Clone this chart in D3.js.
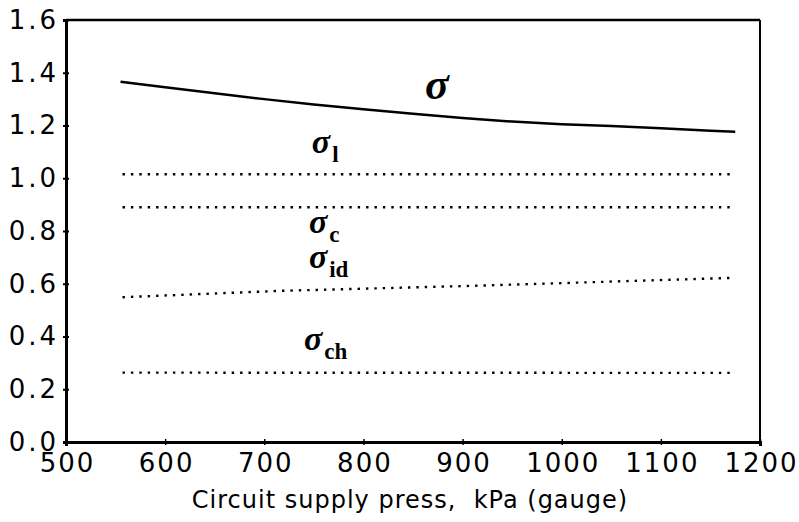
<!DOCTYPE html>
<html>
<head>
<meta charset="utf-8">
<script src="https://cdn.jsdelivr.net/npm/d3@7"></script>
<style>
  body { margin: 0; background: #fff; }
  svg { display: block; }
  .tick text { font-family: "DejaVu Sans", sans-serif; }
</style>
</head>
<body>
<svg width="799" height="522"></svg>
<script>
// data
var xTicks = [500, 600, 700, 800, 900, 1000, 1100, 1200];
var yTicks = [0, 0.2, 0.4, 0.6, 0.8, 1.0, 1.2, 1.4, 1.6];

var sigmaX = [555, 600, 650, 700, 750, 800, 850, 900, 950, 1000, 1050, 1100, 1150, 1175];
var sigmaY = [1.366, 1.345, 1.322, 1.300, 1.280, 1.262, 1.245, 1.228, 1.215, 1.205, 1.198, 1.190, 1.180, 1.176];

var sigmaLX = [557, 1170];
var sigmaLY = [1.015, 1.015];
var sigmaCX = [557, 1170];
var sigmaCY = [0.890, 0.890];
var sigmaIdX = [557, 716, 918, 1170];
var sigmaIdY = [0.549, 0.573, 0.593, 0.622];
var sigmaChX = [557, 1170];
var sigmaChY = [0.263, 0.262];

// label anchors in data units: [x, y, subscript, size]
var labels = [
  [862, 1.300, "", 44],
  [748, 1.096, "l", 34],
  [745, 0.792, "c", 34],
  [745, 0.660, "id", 34],
  [740, 0.349, "ch", 34]
];

var svg = d3.select("svg");
var margin = {left: 66, top: 20, right: 39, bottom: 80};
var width = 799 - margin.left - margin.right,
    height = 522 - margin.top - margin.bottom;

var x = d3.scaleLinear().domain([500, 1200]).range([0, width]);
var y = d3.scaleLinear().domain([0, 1.6]).range([height, 0]);

var g = svg.append("g").attr("transform", "translate(" + margin.left + "," + margin.top + ")");

// frame top + right
g.append("line").attr("x1", 0).attr("x2", width).attr("y1", 0).attr("y2", 0)
  .style("stroke", "#000").style("stroke-width", 2.5);
g.append("line").attr("x1", width).attr("x2", width).attr("y1", 0).attr("y2", height)
  .style("stroke", "#000").style("stroke-width", 2);

var xAxis = g.append("g")
  .attr("transform", "translate(0," + height + ")")
  .call(d3.axisBottom(x).tickValues(xTicks).tickFormat(d3.format("d")).tickSize(4).tickPadding(8));
xAxis.select(".domain").style("stroke-width", 3);
xAxis.selectAll(".tick line").attr("y1", -3).attr("y2", 3).style("stroke-width", 1.5);
xAxis.selectAll(".tick text").style("font-size", "26px").style("letter-spacing", "2px")
  .attr("dx", "1px").attr("dy", "0.71em").attr("y", 12);

var yAxis = g.append("g")
  .call(d3.axisLeft(y).tickValues(yTicks).tickFormat(d3.format(".1f")).tickSize(3).tickPadding(4));
yAxis.select(".domain").style("stroke-width", 3);
yAxis.selectAll(".tick line").attr("x1", -3).attr("x2", 3).style("stroke-width", 2);
yAxis.selectAll(".tick text").style("font-size", "26px").style("letter-spacing", "3px");

var line = d3.line()
  .x(function (d) { return x(d[0]); })
  .y(function (d) { return y(d[1]); });

g.append("path")
  .datum(d3.zip(sigmaX, sigmaY))
  .attr("d", line)
  .style("fill", "none").style("stroke", "#000").style("stroke-width", 2.5);

[[sigmaLX, sigmaLY], [sigmaCX, sigmaCY], [sigmaIdX, sigmaIdY], [sigmaChX, sigmaChY]].forEach(function (s) {
  g.append("path")
    .datum(d3.zip(s[0], s[1]))
    .attr("d", line)
    .style("fill", "none").style("stroke", "#000")
    .style("stroke-width", 2.4)
    .style("stroke-dasharray", "2.4,6");
});

// sigma labels
labels.forEach(function (l) {
  var t = g.append("text")
    .attr("x", x(l[0])).attr("y", y(l[1]))
    .style("font-family", "'Liberation Serif', serif")
    .style("font-weight", "bold")
    .style("font-size", l[3] + "px");
  t.append("tspan").text("σ").style("font-style", "italic");
  if (l[2]) {
    t.append("tspan").text(l[2])
      .attr("dx", 2).attr("dy", 9)
      .style("font-size", "23px");
  }
});

svg.append("text")
  .attr("x", 410)
  .attr("y", 508)
  .attr("text-anchor", "middle")
  .style("font-family", "'DejaVu Sans', sans-serif")
  .style("font-size", "24px")
  .style("letter-spacing", "1px")
  .style("white-space", "pre")
  .text("Circuit supply press,  kPa (gauge)");
</script>
</body>
</html>
